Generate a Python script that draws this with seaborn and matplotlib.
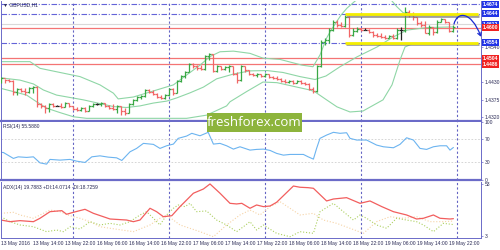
import numpy as np
import pandas as pd
import matplotlib
matplotlib.use("Agg")
import matplotlib.pyplot as plt
import seaborn as sns
from matplotlib.path import Path
from matplotlib.patches import FancyArrowPatch, Rectangle
import matplotlib.patheffects as pe
import matplotlib.transforms as mtransforms

sns.set_style("white")
plt.rcParams['font.family'] = ['Liberation Sans', 'DejaVu Sans']

# ---------------- data (hourly bars, GBPUSD H1) ----------------
first_open = 1.4430
close = [1.4443, 1.4436, 1.4433, 1.4399, 1.4408, 1.4402, 1.4399, 1.4411, 1.4414, 1.4361,
         1.4355, 1.4348, 1.4361, 1.4355, 1.4355, 1.4352, 1.4364, 1.4355, 1.4345, 1.4342,
         1.4348, 1.4339, 1.4355, 1.4361, 1.4361, 1.4364, 1.4355, 1.4348, 1.4345, 1.4355,
         1.4339, 1.4333, 1.4361, 1.4374, 1.4383, 1.4386, 1.4405, 1.4399, 1.4392, 1.4383,
         1.4380, 1.4389, 1.4408, 1.4396, 1.4433, 1.4449, 1.4462, 1.4487, 1.4480, 1.4474,
         1.4471, 1.4512, 1.4518, 1.4465, 1.4480, 1.4471, 1.4477, 1.4480, 1.4455, 1.4436,
         1.4480, 1.4468, 1.4455, 1.4452, 1.4455, 1.4449, 1.4455, 1.4446, 1.4443, 1.4440,
         1.4433, 1.4430, 1.4433, 1.4427, 1.4433, 1.4427, 1.4424, 1.4408, 1.4402, 1.4480,
         1.4556, 1.4562, 1.4593, 1.4619, 1.4609, 1.4606, 1.4634, 1.4578, 1.4590, 1.4597,
         1.4593, 1.4593, 1.4587, 1.4578, 1.4575, 1.4571, 1.4568, 1.4575, 1.4568, 1.4593,
         1.4593, 1.4650, 1.4640, 1.4634, 1.4615, 1.4609, 1.4584, 1.4603, 1.4587, 1.4619,
         1.4628, 1.4619, 1.4590, 1.4603]
high = [1.4446, 1.4440, 1.4440, 1.4436, 1.4411, 1.4411, 1.4411, 1.4414, 1.4418, 1.4418,
        1.4364, 1.4358, 1.4364, 1.4364, 1.4358, 1.4364, 1.4367, 1.4364, 1.4355, 1.4352,
        1.4352, 1.4352, 1.4358, 1.4364, 1.4364, 1.4367, 1.4364, 1.4358, 1.4361, 1.4358,
        1.4355, 1.4348, 1.4364, 1.4377, 1.4386, 1.4389, 1.4408, 1.4408, 1.4405, 1.4396,
        1.4389, 1.4392, 1.4411, 1.4411, 1.4436, 1.4452, 1.4465, 1.4490, 1.4490, 1.4483,
        1.4483, 1.4515, 1.4521, 1.4518, 1.4483, 1.4480, 1.4480, 1.4483, 1.4480, 1.4462,
        1.4483, 1.4480, 1.4468, 1.4458, 1.4458, 1.4455, 1.4458, 1.4455, 1.4449, 1.4449,
        1.4443, 1.4440, 1.4436, 1.4436, 1.4436, 1.4436, 1.4430, 1.4427, 1.4414, 1.4483,
        1.4562, 1.4568, 1.4600, 1.4625, 1.4625, 1.4619, 1.4640, 1.4637, 1.4600, 1.4603,
        1.4600, 1.4600, 1.4597, 1.4590, 1.4584, 1.4584, 1.4578, 1.4578, 1.4581, 1.4600,
        1.4603, 1.4666, 1.4656, 1.4650, 1.4634, 1.4622, 1.4622, 1.4609, 1.4603, 1.4625,
        1.4631, 1.4628, 1.4619, 1.4609]
low = [1.4427, 1.4427, 1.4430, 1.4389, 1.4389, 1.4399, 1.4389, 1.4396, 1.4396, 1.4352,
       1.4348, 1.4333, 1.4336, 1.4352, 1.4355, 1.4348, 1.4352, 1.4352, 1.4342, 1.4339,
       1.4339, 1.4336, 1.4339, 1.4352, 1.4358, 1.4355, 1.4352, 1.4345, 1.4342, 1.4333,
       1.4326, 1.4326, 1.4333, 1.4358, 1.4370, 1.4377, 1.4383, 1.4396, 1.4389, 1.4380,
       1.4377, 1.4377, 1.4386, 1.4389, 1.4396, 1.4430, 1.4443, 1.4462, 1.4474, 1.4468,
       1.4468, 1.4468, 1.4499, 1.4462, 1.4462, 1.4468, 1.4468, 1.4462, 1.4452, 1.4427,
       1.4433, 1.4462, 1.4452, 1.4449, 1.4446, 1.4446, 1.4446, 1.4443, 1.4440, 1.4436,
       1.4430, 1.4427, 1.4427, 1.4424, 1.4427, 1.4424, 1.4421, 1.4405, 1.4396, 1.4399,
       1.4477, 1.4546, 1.4553, 1.4590, 1.4603, 1.4603, 1.4603, 1.4571, 1.4575, 1.4587,
       1.4590, 1.4593, 1.4584, 1.4571, 1.4571, 1.4568, 1.4565, 1.4568, 1.4565, 1.4565,
       1.4562, 1.4587, 1.4634, 1.4625, 1.4609, 1.4603, 1.4584, 1.4578, 1.4578, 1.4584,
       1.4619, 1.4615, 1.4587, 1.4587]

# Bollinger bands
bb_upper_bar = [0, 7.25, 9.75, 19.75, 24.75, 28.1, 29.3, 33.1, 38.9, 43.1, 46.4, 49.75, 52.25,
                54.75, 58.1, 62.25, 65.5, 69.75, 75.25, 78, 79.75, 81.4, 82.25, 83.5, 85,
                86.5, 88.5, 90.5, 93.5, 96, 97.5, 99, 100.5, 102.25, 110.6, 113]
bb_upper_val = [1.4494, 1.4494, 1.4473, 1.4447, 1.4421, 1.4395, 1.4377, 1.4383, 1.4405, 1.4421,
                1.4452, 1.4483, 1.4510, 1.4525, 1.4527, 1.4520, 1.4505, 1.4501, 1.4483, 1.4478,
                1.4515, 1.4568, 1.4587, 1.4612, 1.4640, 1.4662, 1.4684, 1.4700, 1.4719, 1.4706,
                1.4688, 1.4666, 1.4648, 1.4640, 1.4640, 1.4640]
bb_mid_bar = [0, 4.75, 8.1, 10.6, 13.9, 20.6, 28.1, 31.4, 34.75, 38.1, 41.4, 43.9, 47.25, 50.6,
              53.9, 58.1, 62.25, 66.5, 70.5, 74.75, 78.5, 81.25, 84.75, 89, 94, 98, 101.5,
              106.5, 113]
bb_mid_val = [1.4443, 1.4436, 1.4424, 1.4405, 1.4389, 1.4374, 1.4353, 1.4350, 1.4355, 1.4364,
              1.4370, 1.4380, 1.4396, 1.4414, 1.4440, 1.4455, 1.4465, 1.4466, 1.4460, 1.4447,
              1.4438, 1.4449, 1.4478, 1.4509, 1.4540, 1.4571, 1.4593, 1.4601, 1.4603]
bb_lower_bar = [0, 3.1, 6.4, 8.9, 11.4, 14.75, 18.1, 21.4, 33.1, 46.4, 51.4, 56.4, 57.25, 61.4,
                65.5, 69, 74, 77.25, 78.5, 81.4, 84, 87.25, 90.5, 95.5, 97.75, 99.75, 101, 103, 113]
bb_lower_val = [1.4410, 1.4400, 1.4389, 1.4368, 1.4348, 1.4334, 1.4321, 1.4316, 1.4316, 1.4316,
                1.4326, 1.4355, 1.4368, 1.4400, 1.4430, 1.4428, 1.4414, 1.4405, 1.4399, 1.4374,
                1.4352, 1.4336, 1.4339, 1.4374, 1.4421, 1.4499, 1.4540, 1.4551, 1.4551]

# RSI(14)
rsi_bar = [0, 0.6, 3.1, 4.3, 6.4, 8.1, 9.75, 11.4, 12.25, 14.75, 17.25, 18.9, 21, 22.7, 24.75,
           26.8, 28.9, 30.2, 32.25, 33.9, 35.6, 38.1, 39.75, 41.4, 43.1, 44.3, 46.4, 47.7,
           49.75, 51.8, 53.1, 54.75, 56.4, 58.1, 59.75, 62.25, 63.9, 65.6, 67.25, 68.9, 70.6,
           72.25, 75.6, 76.8, 78.1, 78.9, 79.75, 81.4, 83.1, 84.75, 86.4, 87.25, 88.9, 91.4,
           93.9, 95.6, 98.1, 99.75, 101.4, 103.1, 104.75, 106.4, 108.1, 109.75, 111.4, 112.25, 113.1]
rsi_val = [47.2, 47.0, 36.9, 39.6, 38.6, 39.6, 29.3, 27.1, 35.2, 34.0, 35.2, 32.2, 30.0, 39.6, 41.3,
           39.1, 37.9, 33.4, 48.2, 54.0, 62.6, 60.9, 54.0, 58.5, 61.4, 71.2, 75.1, 79.8,
           75.6, 81.5, 61.4, 62.6, 58.5, 52.8, 56.8, 51.1, 52.3, 52.8, 50.6, 45.5, 42.5,
           43.7, 43.7, 39.6, 35.7, 54.0, 71.2, 76.8, 81.5, 79.8, 80.8, 71.2, 68.3, 68.3,
           59.7, 56.8, 55.1, 60.9, 72.2, 68.3, 54.0, 52.3, 56.8, 58.5, 58.5, 51.1, 55.6]

# ADX(14), +DI, -DI
adx_bar = [0, 2.25, 4.75, 8.1, 9.75, 12.25, 15.2, 16.4, 18.1, 21, 23.1, 25.6, 27.25, 31.4, 33.1,
           34.75, 37.25, 38.9, 40.6, 42.7, 44.75, 48.1, 50.6, 52.25, 54.75, 57.25, 58.9, 60.2,
           62.25, 63.9, 65.6, 67.25, 68.9, 73.1, 74.75, 76.8, 78.1, 81.4, 83.1, 86.4, 89.75,
           92.25, 95.2, 98.1, 101.4, 103.9, 105.6, 108.1, 109.75, 112.25, 113.1]
adx_val = [18.5, 16.9, 17.9, 16.9, 20.2, 26.6, 27.6, 24.1, 26.0, 28.9, 25.0, 21.7, 19.5, 18.5, 16.9,
           18.5, 29.9, 26.6, 21.7, 22.7, 31.5, 44.5, 48.6, 53.5, 44.5, 34.7, 34.1, 34.7,
           29.9, 33.1, 31.5, 32.1, 35.7, 51.5, 50.3, 49.9, 49.3, 37.0, 38.9, 40.2, 34.7,
           37.0, 31.5, 26.6, 23.4, 19.5, 20.2, 23.4, 20.2, 19.5, 19.8]
pdi_bar = [0, 2.25, 4.75, 8.1, 11.4, 13.9, 15.6, 17.25, 19.75, 22.25, 24.75, 27.25, 29.75, 32.25,
           34.75, 36.4, 38.1, 39.75, 41.4, 43.1, 44.3, 46, 47.25, 48.9, 51.4, 53.9, 56.4, 58.9,
           60.6, 62.25, 63.9, 65.6, 68.9, 72.25, 74.75, 78.1, 79.75, 83.1, 85.6, 88.1, 89.75,
           91.4, 93.9, 96.4, 98.9, 101.4, 103.9, 105.6, 108.1, 110.6, 113.1]
pdi_val = [21.7, 16.9, 13.7, 12.0, 7.2, 8.8, 7.2, 12.0, 9.8, 16.9, 13.7, 15.3, 13.7, 16.9,
           23.4, 26.6, 20.2, 13.7, 23.4, 29.9, 33.1, 31.5, 34.7, 26.6, 27.3, 18.5, 13.7, 7.2,
           12.0, 16.9, 8.8, 13.7, 5.6, 2.3, 7.2, 5.6, 26.6, 34.7, 26.6, 18.5, 23.4,
           20.2, 13.7, 10.5, 20.2, 18.5, 16.9, 13.7, 7.2, 15.3, 14.1]
mdi_bar = [0, 3.1, 4.75, 8.1, 12.25, 14.75, 17.25, 19.75, 22.25, 24.75, 27.25, 33.1, 37.25, 39.75,
           41.4, 44.75, 49.75, 53.1, 56.4, 59.75, 62.25, 64.75, 67.25, 69.75, 72.25, 74.75,
           78.1, 80.6, 83.9, 87.25, 90.6, 93.9, 97.25, 100.6, 103.9, 107.25, 110.6, 113.1]
mdi_val = [25.0, 26.0, 23.4, 20.2, 28.2, 26.6, 22.7, 20.2, 16.9, 12.0, 10.5, 7.2, 13.7, 20.2,
           23.4, 13.7, 7.2, 2.3, 13.7, 23.4, 28.2, 23.4, 31.5, 36.3, 29.9, 23.4,
           25.0, 18.5, 15.3, 10.5, 5.6, 16.9, 21.7, 20.2, 21.7, 16.9, 16.9, 17.5]

# horizontal levels
blue_levels = [1.4674, 1.4644, 1.4554]
red_levels = [1.4600, 1.4504, 1.4486]
bid_level = 1.4612
channel_levels = [1.4644, 1.4554]
channel_from, channel_to = 86, 119.25
price_ticks = [1.4320, 1.4375, 1.4430, 1.4540]
boxed_labels = [(1.4674, "1.4674", "b"), (1.4644, "1.4644", "b"), (1.4612, "1.4612", "b"),
                (1.4600, "1.4600", "r"), (1.4554, "1.4554", "b"), (1.4504, "1.4504", "r"),
                (1.4486, "1.4486", "r")]

# time axis
day_separators = [18, 42, 66, 90, 114]
time_tick_bars = [0, 8, 16, 24, 32, 40, 48, 56, 64, 72, 80, 88, 96, 104, 112]
time_tick_labels = ["13 May 2016", "13 May 14:00", "13 May 22:00", "16 May 06:00", "16 May 14:00",
                    "16 May 22:00", "17 May 06:00", "17 May 14:00", "17 May 22:00", "18 May 06:00",
                    "18 May 14:00", "18 May 22:00", "19 May 06:00", "19 May 14:00", "19 May 22:00"]

# forecast arrow (bar, price) control points
arrow_bar = [113.25, 114.0, 117.5, 120.0]
arrow_price = [1.4612, 1.4652, 1.4654, 1.4572]

# ---------------- styling ----------------
FRAME = '#6b6bc8'
TXT = '#2a2a55'
GREEN = '#3aa845'
RED = '#f26666'
BAND = '#8fd6a6'
FS = 3.6

fig = plt.figure(figsize=(5, 2.5), dpi=100)
ax = fig.add_axes([0.002, 1 - 120.5 / 250, 0.96, 119.5 / 250])
ax_r = fig.add_axes([0.002, 1 - 180 / 250, 0.96, 58.5 / 250])
ax_a = fig.add_axes([0.002, 1 - 238 / 250, 0.96, 56 / 250])

n = len(close)
idx = np.arange(n)
opens = np.array([first_open] + close[:-1])
cl = np.array(close)
cols = [GREEN if c > o + 1e-7 else (RED if c < o - 1e-7 else '#222222') for o, c in zip(opens, cl)]

# horizontal lines in main panel
ax.axhline(bid_level, color='#d9d9d9', lw=0.8, zorder=1)
for p in blue_levels:
    ax.axhline(p, color='#6464d8', lw=0.8, ls=(0, (5, 1.5, 1, 1.5)), zorder=1)
for p in red_levels:
    ax.axhline(p, color='#f47474', lw=0.9, zorder=1)

# Bollinger bands via seaborn
sns.lineplot(x=bb_upper_bar, y=bb_upper_val, ax=ax, color=BAND, lw=0.8, zorder=2)
sns.lineplot(x=bb_mid_bar, y=bb_mid_val, ax=ax, color=BAND, lw=0.8, zorder=2)
sns.lineplot(x=bb_lower_bar, y=bb_lower_val, ax=ax, color=BAND, lw=0.8, zorder=2)

# OHLC bars
ax.vlines(idx, low, high, colors=cols, lw=0.9, zorder=3)
ax.hlines(opens, idx - 0.45, idx, colors=cols, lw=0.9, zorder=3)
ax.hlines(cl, idx, idx + 0.45, colors=cols, lw=0.9, zorder=3)

# yellow channel
ax.hlines(channel_levels, channel_from, channel_to, colors='#f4ee00', lw=2.0, zorder=4,
          path_effects=[pe.SimpleLineShadow(offset=(0.6, -1.2), shadow_color='#777777', alpha=0.7),
                        pe.Normal()], clip_on=False)

# forecast arrow
path = Path(list(zip(arrow_bar, arrow_price)), [Path.MOVETO, Path.CURVE4, Path.CURVE4, Path.CURVE4])
arr = FancyArrowPatch(path=path, arrowstyle='->,head_length=2.2,head_width=1.3',
                      color='#1a2ad0', lw=0.9, zorder=6, clip_on=False)
ax.add_patch(arr)

ax.set_xlim(0, 120)
ax.set_ylim(1.43092, 1.46844)

# RSI
ax_r.axhline(70, color='#cfcfcf', lw=0.6, ls=(0, (2, 2)))
ax_r.axhline(30, color='#cfcfcf', lw=0.6, ls=(0, (2, 2)))
sns.lineplot(x=rsi_bar, y=rsi_val, ax=ax_r, color='#6cb4f0', lw=0.8)
ax_r.set_xlim(0, 120)
ax_r.set_ylim(0, 100)

# ADX
sns.lineplot(x=mdi_bar, y=mdi_val, ax=ax_a, color='#f6d3a6', lw=0.8, ls=':')
sns.lineplot(x=pdi_bar, y=pdi_val, ax=ax_a, color='#acd060', lw=0.8, ls=':')
sns.lineplot(x=adx_bar, y=adx_val, ax=ax_a, color='#f25e5e', lw=0.9)
ax_a.set_xlim(0, 120)
ax_a.set_ylim(1.06, 55.4)

for a in (ax, ax_r, ax_a):
    for d in day_separators:
        a.axvline(d, color='#6464c4', lw=0.8, ls=(0, (2, 2)), zorder=1.5)
    a.set_xlabel('')
    a.set_ylabel('')
    a.set_facecolor('white')
    for s in a.spines.values():
        s.set_color(FRAME)
        s.set_linewidth(0.7)
    a.spines['top'].set_visible(False)
    a.yaxis.tick_right()
    a.tick_params(axis='y', length=1.5, width=0.5, color=FRAME, pad=1.2,
                  labelsize=FS, labelcolor=TXT)

ax.spines['bottom'].set_linewidth(1.6)
ax_r.spines['bottom'].set_linewidth(1.6)
ax.set_xticks([])
ax_r.set_xticks([])

ax.set_yticks(price_ticks)
ax.set_yticklabels([f"{p:.4f}" for p in price_ticks])
ax_r.set_yticks([0, 30, 70, 100])
ax_r.set_yticklabels(["0", "30", "70", "100"])
ax_a.set_yticks([3, 53])
ax_a.set_yticklabels(["3", "53"])

ax_a.set_xticks(time_tick_bars)
ax_a.set_xticklabels(time_tick_labels, ha='left')
ax_a.tick_params(axis='x', length=1.5, width=0.5, color=FRAME, pad=1.0,
                 labelsize=FS, labelcolor=TXT)

# boxed price labels on the right scale
trans = mtransforms.blended_transform_factory(ax.transAxes, ax.transData)
for p, t, c in boxed_labels:
    ax.text(1.004, p, t, transform=trans, fontsize=FS, color='white', va='center', ha='left',
            fontweight='bold',
            bbox=dict(boxstyle='square,pad=0.18', fc='#2234e6' if c == 'b' else '#f02222', ec='none'),
            zorder=7, clip_on=False)

# panel captions
ax.text(0.004, 0.965, "\u25bc GBPUSD,H1", transform=ax.transAxes, fontsize=FS, color=TXT,
        va='center', ha='left')
ax_r.text(0.004, 0.92, "RSI(14) 55.5880", transform=ax_r.transAxes, fontsize=FS, color=TXT,
          va='center', ha='left')
ax_a.text(0.004, 0.91, "ADX(14) 19.7883 +DI:14.0714 -DI:18.7259", transform=ax_a.transAxes,
          fontsize=FS, color=TXT, va='center', ha='left')

# watermark
rect = Rectangle((207 / 500, 1 - 132 / 250), 95 / 500, 19 / 250, transform=fig.transFigure,
                 fc='#8db43c', ec='none', zorder=20)
fig.add_artist(rect)
fig.text(254.5 / 500, 1 - 122.5 / 250, "freshforex.com", color='white', fontsize=9.5,
         ha='center', va='center', family=['Open Sans', 'DejaVu Sans'], zorder=21)

fig.savefig("out.png", dpi=100, facecolor='white')
